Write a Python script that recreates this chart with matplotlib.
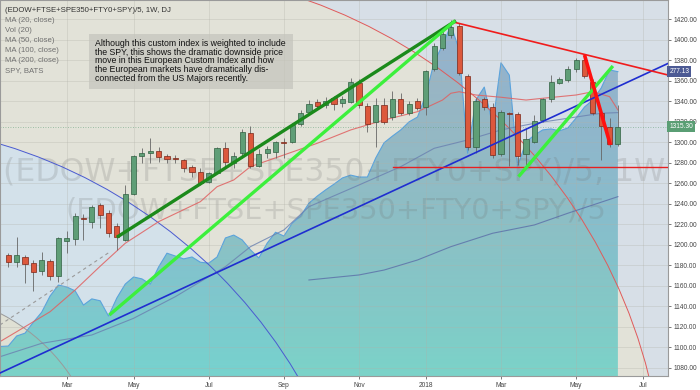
import numpy as np
import matplotlib
matplotlib.use("Agg")
import matplotlib.pyplot as plt
import matplotlib.transforms as mtransforms
from matplotlib.patches import Ellipse, Polygon, Rectangle
import pandas as pd

# weekly bars of (EDOW+FTSE+SPE350+FTY0+SPY)/5, first bar is week of 2017-01-16
FIRST_BAR = "2017-01-16"
OPEN = [1190.0, 1183.1, 1188.3, 1182.5, 1174.7, 1184.1, 1169.5, 1203.9, 1205.3, 1225.8,
        1221.9, 1238.8, 1231.3, 1218.3, 1204.6, 1249.5, 1286.6, 1289.2, 1291.5, 1286.6,
        1284.2, 1282.4, 1275.9, 1271.3, 1261.5, 1270.3, 1294.4, 1279.8, 1289.2, 1309.3,
        1276.8, 1289.2, 1290.8, 1299.8, 1300.5, 1317.5, 1329.8, 1339.6, 1336.4, 1342.9,
        1338.0, 1339.6, 1357.6, 1335.4, 1319.5, 1336.1, 1324.4, 1342.2, 1328.8, 1340.6,
        1334.1, 1371.2, 1391.7, 1404.7, 1413.5, 1364.7, 1295.7, 1341.9, 1334.7, 1288.5,
        1328.6, 1327.3, 1288.5, 1300.5, 1321.7, 1341.9, 1358.1, 1360.8, 1371.2, 1380.3,
        1359.1, 1328.3, 1315.2, 1298.3]
HIGH = [1191.9, 1207.8, 1190.0, 1185.1, 1193.2, 1186.1, 1207.5, 1213.7, 1231.3, 1230.0,
        1238.8, 1240.4, 1233.9, 1220.9, 1258.3, 1287.6, 1294.1, 1303.9, 1295.7, 1288.5,
        1287.6, 1283.4, 1277.8, 1274.6, 1271.3, 1295.7, 1300.5, 1290.8, 1312.9, 1315.9,
        1293.1, 1296.3, 1301.2, 1304.2, 1318.8, 1331.5, 1341.3, 1342.2, 1344.2, 1345.2,
        1345.2, 1362.4, 1361.7, 1338.0, 1342.9, 1342.9, 1350.3, 1347.8, 1340.3, 1342.9,
        1370.5, 1396.6, 1408.6, 1419.3, 1416.4, 1366.6, 1343.2, 1344.2, 1338.3, 1331.5,
        1329.5, 1329.5, 1313.9, 1326.6, 1343.2, 1365.6, 1363.7, 1374.4, 1382.2, 1383.2,
        1361.7, 1330.5, 1323.7, 1336.4]
LOW = [1178.3, 1178.3, 1162.7, 1154.8, 1170.5, 1165.6, 1163.6, 1191.6, 1199.7, 1204.6,
       1216.0, 1216.0, 1207.8, 1194.9, 1203.6, 1248.5, 1279.5, 1279.5, 1281.0, 1279.5,
       1279.5, 1271.3, 1266.4, 1258.3, 1259.9, 1269.7, 1276.2, 1274.6, 1284.3, 1274.6,
       1276.2, 1284.3, 1284.3, 1284.6, 1299.3, 1315.9, 1328.6, 1333.4, 1333.4, 1331.5,
       1334.4, 1338.3, 1333.4, 1310.3, 1295.7, 1317.8, 1321.7, 1326.6, 1326.6, 1331.5,
       1326.6, 1369.5, 1390.0, 1401.8, 1365.6, 1292.5, 1289.5, 1331.5, 1284.6, 1286.6,
       1276.8, 1277.8, 1277.8, 1299.3, 1319.8, 1339.3, 1357.3, 1358.8, 1368.6, 1362.7,
       1326.6, 1282.7, 1295.4, 1296.3]
CLOSE = [1183.4, 1189.7, 1180.9, 1173.7, 1185.1, 1169.5, 1206.3, 1206.3, 1228.0, 1225.1,
         1236.5, 1229.0, 1211.7, 1207.3, 1249.5, 1286.6, 1289.8, 1291.2, 1285.9, 1283.4,
         1283.8, 1274.6, 1270.7, 1259.9, 1270.0, 1294.4, 1280.7, 1286.6, 1310.3, 1276.8,
         1288.5, 1293.1, 1300.5, 1299.4, 1316.8, 1328.8, 1337.3, 1335.4, 1340.6, 1337.0,
         1341.9, 1358.5, 1336.4, 1317.8, 1336.1, 1320.1, 1342.2, 1328.3, 1337.3, 1333.1,
         1369.8, 1393.9, 1405.4, 1412.8, 1367.3, 1295.7, 1340.6, 1334.1, 1287.6, 1329.2,
         1327.3, 1286.6, 1302.9, 1321.0, 1341.9, 1359.1, 1361.7, 1371.2, 1380.3, 1364.7,
         1328.8, 1315.9, 1298.3, 1315.3]

# SPY overlay on its own scale, starts one bar before the first index bar
SPY = [219.4, 219.5, 221.6, 222.2, 224.5, 226.6, 230.0, 232.3, 231.9, 231.1,
       228.1, 229.4, 229.0, 225.8, 229.6, 232.5, 234.0, 233.6, 232.5, 236.1,
       239.0, 238.4, 237.8, 238.2, 237.1, 236.9, 238.2, 242.2, 242.8, 241.8,
       239.7, 238.0, 241.1, 243.4, 242.6, 245.3, 246.8, 249.5, 251.0, 252.3,
       253.5, 254.8, 255.4, 255.0, 255.0, 259.0, 262.2, 263.6, 264.9, 266.6,
       267.6, 272.2, 279.2, 282.7, 286.9, 281.7, 260.0, 271.2, 273.9, 265.9,
       279.0, 276.4, 257.3, 262.4, 263.8, 264.9, 265.1, 264.7, 265.3, 267.4,
       269.7, 271.2, 273.7, 277.5, 277.13]
SPY_LO, SPY_HI = 213.2, 292.19

MA20_BARS = [-1, 1, 5, 8, 11, 14, 18, 23, 25, 27, 29, 33, 37, 41, 45, 49, 52, 53, 54,
             56, 59, 62, 64, 66, 68, 70, 72, 73]
MA20 = [1105.4, 1115.1, 1134.6, 1155.8, 1179.0, 1201.4, 1222.5, 1242.0, 1256.6, 1263.2,
        1276.2, 1287.6, 1299.0, 1312.0, 1321.7, 1329.8, 1341.2, 1347.8, 1349.3, 1346.1,
        1343.9, 1341.2, 1342.9, 1344.5, 1346.1, 1349.3, 1344.5, 1331.5]
MA50_BARS = [-1, 4, 10, 15, 20, 26, 29, 33, 36, 42, 47, 51, 55, 59, 63, 67, 71, 73]
MA50 = [1090.7, 1103.8, 1111.9, 1128.2, 1149.3, 1178.6, 1198.1, 1214.4, 1237.1, 1258.3,
        1276.2, 1294.1, 1302.2, 1312.0, 1318.5, 1323.4, 1328.3, 1328.9]
MA200_BARS = [36, 42, 45, 49, 53, 58, 60, 63, 67, 73]
MA200 = [1165.6, 1170.5, 1175.3, 1185.1, 1198.1, 1211.2, 1214.4, 1219.3, 1230.7, 1246.9]

# drawings, as (bar, price) end points
DARK_GREEN = ([13.0, 53.6], [1207.3, 1418.6])
LIME_1 = ([12.1, 53.5], [1131.4, 1418.6])
LIME_2 = ([61.1, 72.4], [1266.4, 1374.4])
BLUE_TREND = ([-1.0, 79.0], [1074.8, 1376.9])
RED_TOP = ([53.6, 79.0], [1416.7, 1365.6])
RED_DROP = ([69.0, 72.1], [1385.2, 1297.3])
RED_FLOOR = ([46.1, 79.0], [1276.0, 1276.0])
GRAY_DASH = ([-1.0, 12.2], [1121.7, 1193.2])
# circles: centre bar, centre price, radius in bars, radius in price
RED_CIRCLE = (14.24, 944.2, 64.4, 524.7)
BLUE_CIRCLE = (-18.72, 813.6, 62.07, 505.8)
GRAY_CIRCLE = (-11.22, 969.7, 22.5, 183.4)

LEGEND = ["MA (20, close)", "Vol (20)", "MA (50, close)", "MA (100, close)",
          "MA (200, close)", "SPY, BATS"]
NOTE = ["Although this custom index is weighted to include",
        "the SPY, this shows the dramatic downside price",
        "move in this European Custom Index and how",
        "the European markets have dramatically dis-",
        "connected from the US Majors recently."]

BEIGE = "#e2e2d8"
LIGHT_BLUE = "#d3e1ea"
BLUE_GREY = "#d7dfe7"

fig = plt.figure(figsize=(7, 3.9), dpi=100)
fig.patch.set_facecolor("white")
ax = fig.add_axes([0.0, 14 / 390, 668 / 700, 376 / 390])
ax.set_facecolor(BLUE_GREY)

# background circles (fills)
for (cx, cy, rx, ry), fc in [(RED_CIRCLE, BEIGE), (BLUE_CIRCLE, LIGHT_BLUE),
                             (GRAY_CIRCLE, "#dfe0d4")]:
    ax.add_patch(Ellipse((cx, cy), 2 * rx, 2 * ry, facecolor=fc, edgecolor="none", zorder=0.2))

# SPY overlay area with gradient
spy_y = mtransforms.Affine2D().translate(0, -SPY_LO).scale(1, 1 / (SPY_HI - SPY_LO)) + ax.transAxes
spy_tr = mtransforms.blended_transform_factory(ax.transData, spy_y)
spy_bars = np.arange(-1, len(SPY) - 1)
verts = [(spy_bars[0], SPY_LO)] + list(zip(spy_bars, SPY)) + [(spy_bars[-1], SPY_LO)]
poly = Polygon(verts, closed=True, transform=spy_tr, facecolor="none", edgecolor="none")
ax.add_patch(poly)
top = np.array([85, 130, 175, 125]) / 255
bot = np.array([80, 205, 195, 180]) / 255
t = np.linspace(0, 1, 256)[:, None, None] ** 1.3
grad = top * (1 - t) + bot * t
im = ax.imshow(grad, extent=(0, 1, 0, 1), transform=ax.transAxes, aspect="auto",
               origin="upper", zorder=1, interpolation="bilinear")
im.set_clip_path(poly)
ax.plot(spy_bars, SPY, transform=spy_tr, color="#5ba3dc", lw=0.8, zorder=1.2)

# watermark
wm1 = ax.text((3 + 663 / 2) / 668, 1 - 172 / 376, "(EDOW+FTSE+SPE350+FTY0+SPY)/5, 1W",
              transform=ax.transAxes, ha="center", va="center", fontsize=24,
              color="#6e6e6e", alpha=0.2, zorder=1.5)
wm2 = ax.text((65 + 541 / 2) / 668, 1 - 211 / 376, "(EDOW+FTSE+SPE350+FTY0+SPY)/5",
              transform=ax.transAxes, ha="center", va="center", fontsize=24,
              color="#6e6e6e", alpha=0.2, zorder=1.5)

# circle outlines
for (cx, cy, rx, ry), ec in [(RED_CIRCLE, "#e05a5a"), (BLUE_CIRCLE, "#4a5ad0"),
                             (GRAY_CIRCLE, "#9a9a9a")]:
    ax.add_patch(Ellipse((cx, cy), 2 * rx, 2 * ry, facecolor="none", edgecolor=ec,
                         lw=0.7, zorder=2))

# moving averages
ax.plot(MA200_BARS, MA200, color="#5b6ea8", lw=0.8, alpha=0.8, zorder=2.2)
ax.plot(MA50_BARS, MA50, color="#6a80b0", lw=0.8, alpha=0.8, zorder=2.2)
ax.plot(MA20_BARS, MA20, color="#e06060", lw=0.8, alpha=0.85, zorder=2.2)
ax.plot(GRAY_DASH[0], GRAY_DASH[1], color="#9a9a9a", lw=0.8, ls=(0, (3, 3)), zorder=2.2)

# candles
bars = np.arange(len(OPEN))
o, h, l, c = map(np.array, (OPEN, HIGH, LOW, CLOSE))
up = c >= o
ax.vlines(bars, l, h, color="#666666", lw=0.6, zorder=3)
body_lo = np.minimum(o, c)
body_h = np.maximum(np.abs(c - o), 0.8)
ax.bar(bars[up], body_h[up], bottom=body_lo[up], width=0.62, color="#5f9e77",
       edgecolor="#2f5f40", lw=0.5, zorder=3.2)
ax.bar(bars[~up], body_h[~up], bottom=body_lo[~up], width=0.62, color="#dc583c",
       edgecolor="#7a2618", lw=0.5, zorder=3.2)

# trend lines
ax.plot(*BLUE_TREND, color="#1f2ed0", lw=1.2, zorder=4)
ax.plot(*RED_FLOOR, color="#e82020", lw=1.0, zorder=4)
ax.plot(*RED_TOP, color="#f01c1c", lw=1.2, zorder=4)
ax.plot(*DARK_GREEN, color="#1b8a1b", lw=2.4, zorder=4.2, solid_capstyle="butt")
ax.plot(*LIME_1, color="#3cf03c", lw=2.4, zorder=4.2, solid_capstyle="butt")
ax.plot(*LIME_2, color="#3cf03c", lw=2.4, zorder=4.2, solid_capstyle="butt")
ax.plot(*RED_DROP, color="#ff1010", lw=2.6, zorder=4.2, solid_capstyle="butt")

# last price guide
ax.axhline(CLOSE[-1], color="#5f9e77", lw=0.6, ls=(0, (1, 2)), alpha=0.7, zorder=2.1)

# axes
ax.set_xlim(-0.994, 79.0)
ax.set_ylim(1071.9, 1438.8)
ax.yaxis.tick_right()
ax.set_yticks(np.arange(1080, 1421, 20))
ax.yaxis.set_major_formatter(matplotlib.ticker.FormatStrFormatter("%.2f"))
dates = pd.date_range(FIRST_BAR, periods=80, freq="7D")
tick_pos, tick_lab = [], []
for i, d in enumerate(dates):
    if d.day <= 7 and d.month % 2 == 1 and i > 0:
        tick_pos.append(i)
        tick_lab.append(str(d.year) if d.month == 1 else d.strftime("%b"))
ax.set_xticks(tick_pos)
ax.set_xticklabels(tick_lab)
ax.tick_params(axis="both", colors="#444444", length=2.5, width=0.5, pad=1.5)
for lab in ax.get_xticklabels() + ax.get_yticklabels():
    lab.set_fontfamily("Liberation Sans")
    lab.set_fontsize(4.8)
ax.grid(True, color="#b0b0a8", alpha=0.35, lw=0.6, zorder=0.5)
for s in ax.spines.values():
    s.set_color("#9a9a9a")
    s.set_linewidth(0.8)

# legend text
ax.text(5 / 668, 1 - 11 / 376, "(EDOW+FTSE+SPE350+FTY0+SPY)/5, 1W, DJ", transform=ax.transAxes,
        fontsize=5.6, color="#333333", va="center", family="Liberation Sans", zorder=6)
for k, s in enumerate(LEGEND):
    ax.text(5 / 668, 1 - (21 + 10 * k) / 376, s, transform=ax.transAxes, fontsize=5.6,
            color="#707070", va="center", family="Liberation Sans", zorder=6)

# note box
ax.add_patch(Rectangle((89 / 668, 1 - 89 / 376), 204 / 668, 55 / 376, transform=ax.transAxes,
                       facecolor="#c4c4bc", alpha=0.7, edgecolor="none", zorder=5))
for k, s in enumerate(NOTE):
    ax.text(95 / 668, 1 - (43.3 + 8.75 * k) / 376, s, transform=ax.transAxes, fontsize=6.3,
            color="#111111", va="center", family="Liberation Sans", zorder=6)

# price tags on the right scale
ax.text(1.002, CLOSE[-1], f"{CLOSE[-1]:.2f}", transform=ax.get_yaxis_transform(),
        fontsize=4.8, family="Liberation Sans", color="white", va="center", ha="left",
        clip_on=False, zorder=7,
        bbox=dict(boxstyle="square,pad=0.3", facecolor="#5a9e74", edgecolor="none"))
tag_tr = mtransforms.blended_transform_factory(ax.transAxes, spy_y)
ax.text(1.002, SPY[-1], f"{SPY[-1]:.2f}", transform=tag_tr,
        fontsize=4.8, family="Liberation Sans", color="white", va="center", ha="left",
        clip_on=False, zorder=7,
        bbox=dict(boxstyle="square,pad=0.3", facecolor="#4c5a94", edgecolor="none"))

# fit watermark widths
fig.canvas.draw()
r = fig.canvas.get_renderer()
for wm, target in [(wm1, 663), (wm2, 541)]:
    w = wm.get_window_extent(r).width
    wm.set_fontsize(24 * target / w)

fig.savefig("out.png", dpi=100)
